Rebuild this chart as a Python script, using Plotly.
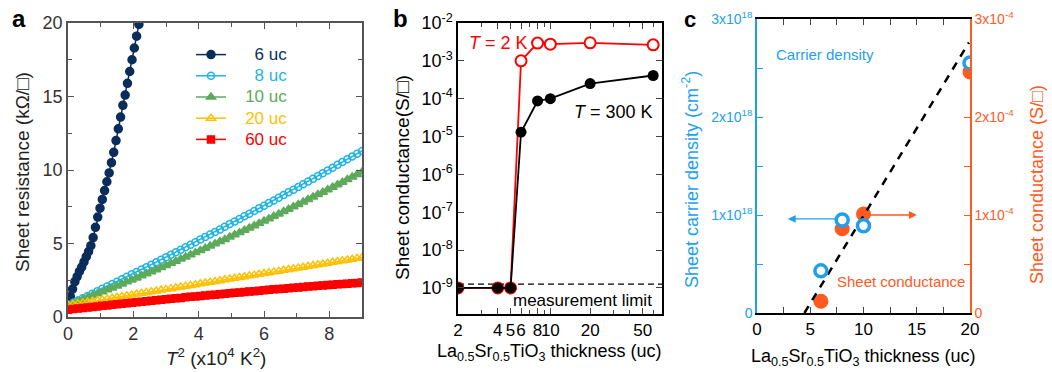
import plotly.graph_objects as go

W, H = 1052, 372
FONT = "Arial, Liberation Sans, Helvetica, sans-serif"

# ---------------- Panel a data: sheet resistance vs T^2 ----------------
t2_6uc = [0.00, 0.07, 0.14, 0.21, 0.28, 0.35, 0.42, 0.49, 0.56, 0.63, 0.70, 0.77,
          0.84, 0.91, 0.98, 1.05, 1.12, 1.19, 1.26, 1.33, 1.40, 1.47, 1.54, 1.61,
          1.68, 1.75, 1.82, 1.89, 1.96, 2.03, 2.10, 2.17]
r_6uc = [0.8, 1.4, 1.9, 2.4, 2.75, 3.1, 3.4, 3.75, 4.1, 4.45, 4.85, 5.4,
         6.1, 6.8, 7.4, 8.0, 8.6, 9.2, 9.8, 10.5, 11.2, 12.0, 12.8, 13.6,
         14.4, 15.1, 15.9, 16.7, 17.5, 18.3, 19.1, 19.9]

t2 = [0.00, 0.15, 0.30, 0.45, 0.60, 0.75, 0.90, 1.05, 1.20, 1.35, 1.50, 1.65,
      1.80, 1.95, 2.10, 2.25, 2.40, 2.55, 2.70, 2.85, 3.00, 3.15, 3.30, 3.45,
      3.60, 3.75, 3.90, 4.05, 4.20, 4.35, 4.50, 4.65, 4.80, 4.95, 5.10, 5.25,
      5.40, 5.55, 5.70, 5.85, 6.00, 6.15, 6.30, 6.45, 6.60, 6.75, 6.90, 7.05,
      7.20, 7.35, 7.50, 7.65, 7.80, 7.95, 8.10, 8.25, 8.40, 8.55, 8.70, 8.85, 9.00]
r_8uc = [0.80, 0.96, 1.12, 1.28, 1.43, 1.59, 1.76, 1.92, 2.08, 2.24, 2.40, 2.57,
         2.73, 2.90, 3.06, 3.23, 3.39, 3.56, 3.73, 3.90, 4.07, 4.24, 4.41, 4.58,
         4.75, 4.92, 5.09, 5.27, 5.44, 5.61, 5.79, 5.96, 6.14, 6.32, 6.49, 6.67,
         6.85, 7.03, 7.21, 7.39, 7.57, 7.75, 7.93, 8.11, 8.30, 8.48, 8.66, 8.85,
         9.03, 9.22, 9.41, 9.59, 9.78, 9.97, 10.16, 10.35, 10.54, 10.73, 10.92, 11.11, 11.30]
r_10uc = [0.80, 0.93, 1.06, 1.19, 1.32, 1.45, 1.58, 1.71, 1.85, 1.98, 2.11, 2.25,
          2.39, 2.52, 2.66, 2.80, 2.94, 3.08, 3.22, 3.36, 3.51, 3.65, 3.80, 3.94,
          4.09, 4.23, 4.38, 4.53, 4.68, 4.83, 4.98, 5.13, 5.28, 5.44, 5.59, 5.74,
          5.90, 6.06, 6.21, 6.37, 6.53, 6.69, 6.85, 7.01, 7.17, 7.33, 7.50, 7.66,
          7.83, 7.99, 8.16, 8.33, 8.49, 8.66, 8.83, 9.00, 9.17, 9.35, 9.52, 9.69, 9.87]
r_20uc = [0.80, 0.85, 0.91, 0.96, 1.02, 1.07, 1.12, 1.18, 1.23, 1.29, 1.34, 1.39,
          1.45, 1.50, 1.56, 1.61, 1.66, 1.72, 1.77, 1.83, 1.88, 1.93, 1.99, 2.04,
          2.10, 2.15, 2.20, 2.26, 2.31, 2.37, 2.42, 2.47, 2.53, 2.58, 2.64, 2.69,
          2.74, 2.80, 2.85, 2.91, 2.96, 3.01, 3.07, 3.12, 3.18, 3.23, 3.28, 3.34,
          3.39, 3.45, 3.50, 3.55, 3.61, 3.66, 3.72, 3.77, 3.82, 3.88, 3.93, 3.99, 4.04]
r_60uc = [0.50, 0.54, 0.57, 0.61, 0.65, 0.68, 0.72, 0.76, 0.79, 0.83, 0.86, 0.90,
          0.93, 0.97, 1.00, 1.04, 1.07, 1.11, 1.14, 1.17, 1.21, 1.24, 1.27, 1.30,
          1.34, 1.37, 1.40, 1.43, 1.46, 1.49, 1.52, 1.55, 1.58, 1.62, 1.65, 1.67,
          1.70, 1.73, 1.76, 1.79, 1.82, 1.85, 1.88, 1.90, 1.93, 1.96, 1.99, 2.01,
          2.04, 2.07, 2.09, 2.12, 2.15, 2.17, 2.20, 2.22, 2.25, 2.27, 2.30, 2.32, 2.35]

# ---------------- Panel b data: sheet conductance vs thickness ----------------
thick_b = [2, 4, 5, 6, 8, 10, 20, 60]
g_300K = [1e-9, 1e-9, 1e-9, 1.3e-5, 8.7e-5, 1.0e-4, 2.5e-4, 4.1e-4]
g_2K = [1e-9, 1e-9, 1e-9, 1.0e-3, 2.95e-3, 2.75e-3, 3.0e-3, 2.65e-3]
MEAS_LIMIT = 1.25e-9
b_xtick_vals = [2, 4, 5, 6, 8, 10, 20, 50]
b_xtick_text = ["2", "4", "5", "6", "8", "10", "20", "50"]
b_ytick_exp = [-2, -3, -4, -5, -6, -7, -8, -9]

# ---------------- Panel c data ----------------
thick_c = [6, 8, 10, 20]
carrier = [0.43e18, 0.95e18, 0.89e18, 2.55e18]
conduct = [0.12e-4, 0.86e-4, 1.01e-4, 2.46e-4]
fit_x = [4.45, 19.9]
fit_y = [0.0, 2.76e18]
arrow_carrier = dict(y=0.96e18, tail=7.5, tip=2.9)
arrow_conduct = dict(y=1.0e-4, tail=10.4, tip=15.0)

BLUE = "#1E9FF0"
ORANGE = "#FF5A1F"
NB = "\u00a0"


def px(x):
    return x / W


def py(y):
    return 1 - y / H


fig = go.Figure()

# ---- panel a traces ----
series_a = [
    (NB * 5 + "6 uc", t2_6uc, r_6uc, "#0B2D5B", "circle", 8),
    (NB * 5 + "8 uc", t2, r_8uc, "#1FB4E6", "circle-open", 7),
    (NB * 3 + "10 uc", t2, r_10uc, "#5DAA5A", "triangle-up", 8),
    (NB * 3 + "20 uc", t2, r_20uc, "#FFC000", "triangle-up-open", 8),
    (NB * 3 + "60 uc", t2, r_60uc, "#FF0000", "square", 7),
]
for name, xs, ys, col, sym, sz in series_a:
    fig.add_trace(go.Scatter(
        x=xs, y=ys, mode="lines+markers", xaxis="x", yaxis="y",
        name=f"<span style='color:{col};font-size:17px'>{name}</span>",
        line=dict(color=col, width=1.5),
        marker=dict(symbol=sym, size=sz, color=col, line=dict(color=col, width=1.5)),
        showlegend=True,
    ))

# ---- panel b traces ----
fig.add_trace(go.Scatter(
    x=[thick_b[0], 70], y=[MEAS_LIMIT, MEAS_LIMIT], mode="lines", xaxis="x2", yaxis="y2",
    line=dict(color="black", width=1.3, dash="6px,4px"), showlegend=False, hoverinfo="skip"))
fig.add_trace(go.Scatter(
    x=thick_b, y=g_2K, mode="lines+markers", xaxis="x2", yaxis="y2",
    line=dict(color="#FF0000", width=1.8),
    marker=dict(symbol="circle", size=11, color="white", line=dict(color="#FF0000", width=2)),
    showlegend=False))
fig.add_trace(go.Scatter(
    x=thick_b, y=g_300K, mode="lines+markers", xaxis="x2", yaxis="y2",
    line=dict(color="black", width=1.8),
    marker=dict(symbol="circle", size=11, color="black"),
    showlegend=False))

# ---- panel c traces ----
fig.add_trace(go.Scatter(
    x=thick_c, y=conduct, mode="markers", xaxis="x3", yaxis="y3",
    marker=dict(symbol="circle", size=15, color=ORANGE), showlegend=False))
fig.add_trace(go.Scatter(
    x=fit_x, y=fit_y, mode="lines", xaxis="x3", yaxis="y4",
    line=dict(color="black", width=2.5, dash="8px,7px"), showlegend=False))
fig.add_trace(go.Scatter(
    x=thick_c, y=carrier, mode="markers", xaxis="x3", yaxis="y4",
    marker=dict(symbol="circle", size=12, color="white", line=dict(color=BLUE, width=3.5)),
    showlegend=False))

tickfont_a = dict(family=FONT, size=18, color="#333")
tickfont_b = dict(family=FONT, size=18, color="black")

fig.update_layout(
    width=W, height=H, margin=dict(l=0, r=0, t=0, b=0),
    paper_bgcolor="white", plot_bgcolor="white",
    font=dict(family=FONT),
    showlegend=True,
    legend=dict(x=px(191), y=py(39), xanchor="left", yanchor="top",
                bgcolor="rgba(0,0,0,0)", font=dict(family=FONT, size=14),
                tracegroupgap=0, itemwidth=30),
    xaxis=dict(domain=[px(68), px(362)], range=[0, 9], anchor="y",
               showline=True, linecolor="#555", linewidth=1.5, mirror="ticks",
               ticks="inside", ticklen=6, tickwidth=1.2, tickcolor="#555",
               tickvals=[0, 2, 4, 6, 8], minor=dict(tickvals=[1, 3, 5, 7, 9], ticks="inside", ticklen=4, tickcolor="#555"),
               showgrid=False, zeroline=False, tickfont=tickfont_a, automargin=False),
    yaxis=dict(domain=[py(317), py(23)], range=[0, 20], anchor="x",
               showline=True, linecolor="#555", linewidth=1.5, mirror="ticks",
               ticks="inside", ticklen=6, tickwidth=1.2, tickcolor="#555",
               tickvals=[0, 5, 10, 15, 20], minor=dict(tickvals=[2.5, 7.5, 12.5, 17.5], ticks="inside", ticklen=4, tickcolor="#555"),
               showgrid=False, zeroline=False, tickfont=tickfont_a, automargin=False),
    xaxis2=dict(domain=[px(458), px(662)], type="log", range=[0.301, 1.845], anchor="y2",
                showline=True, linecolor="black", linewidth=1.5, mirror="ticks",
                ticks="inside", ticklen=6, tickwidth=1.2, tickangle=0,
                tickvals=b_xtick_vals, ticktext=b_xtick_text,
                minor=dict(tickvals=[3, 7, 9, 30, 40, 60], ticks="inside", ticklen=4),
                showgrid=False, zeroline=False, tickfont=dict(family=FONT, size=17, color="black"),
                automargin=False),
    yaxis2=dict(domain=[py(314), py(23)], type="log", range=[-9.69, -2], anchor="x2",
                showline=True, linecolor="black", linewidth=1.5, mirror="ticks",
                ticks="inside", ticklen=6, tickwidth=1.2,
                tickvals=[10 ** e for e in b_ytick_exp],
                ticktext=[f"10<sup>{e}</sup>" for e in b_ytick_exp],
                showgrid=False, zeroline=False, tickfont=tickfont_b, automargin=False),
    xaxis3=dict(domain=[px(757), px(970)], range=[0, 20], anchor="y3",
                showline=True, linecolor="black", linewidth=1.5, mirror="ticks",
                ticks="inside", ticklen=6, tickwidth=1.2, tickangle=0,
                tickvals=[0, 5, 10, 15, 20],
                minor=dict(tickvals=[2.5, 7.5, 12.5, 17.5], ticks="inside", ticklen=6),
                showgrid=False, zeroline=False, tickfont=dict(family=FONT, size=17, color="black"),
                automargin=False),
    yaxis3=dict(domain=[py(313), py(19)], range=[0, 3e-4], anchor="x3", side="right",
                showline=True, linecolor=ORANGE, linewidth=1.5,
                ticks="inside", ticklen=6, tickwidth=1.2, tickcolor=ORANGE,
                tickvals=[0, 1e-4, 2e-4, 3e-4],
                ticktext=["0", "1x10<sup>-4</sup>", "2x10<sup>-4</sup>", "3x10<sup>-4</sup>"],
                minor=dict(tickvals=[0.5e-4, 1.5e-4, 2.5e-4], ticks="inside", ticklen=6, tickcolor=ORANGE),
                showgrid=False, zeroline=False, tickfont=dict(family=FONT, size=14, color=ORANGE),
                automargin=False),
    yaxis4=dict(range=[0, 3e18], anchor="x3", overlaying="y3", side="left",
                showline=True, linecolor=BLUE, linewidth=1.5,
                ticks="inside", ticklen=6, tickwidth=1.2, tickcolor=BLUE,
                tickvals=[0, 1e18, 2e18, 3e18],
                ticktext=["0", "1x10<sup>18</sup>", "2x10<sup>18</sup>", "3x10<sup>18</sup>"],
                minor=dict(tickvals=[0.5e18, 1.5e18, 2.5e18], ticks="inside", ticklen=6, tickcolor=BLUE),
                showgrid=False, zeroline=False, tickfont=dict(family=FONT, size=14, color=BLUE),
                automargin=False),
)


def ann(text, x, y, size=18, color="black", angle=0, bold=False, xanchor="center"):
    if bold:
        text = f"<b>{text}</b>"
    fig.add_annotation(text=text, x=px(x), y=py(y), xref="paper", yref="paper",
                       showarrow=False, textangle=angle, xanchor=xanchor, yanchor="middle",
                       font=dict(family=FONT, size=size, color=color))


# panel labels
ann("a", 19, 19, size=24, bold=True)
ann("b", 400, 19, size=24, bold=True)
ann("c", 690, 20, size=22, bold=True)

# panel a titles
ann("Sheet resistance (k\u03a9/\u25a1)", 22, 172, size=19, color="#222", angle=-90)
ann("<i>T</i><sup>2</sup> (x10<sup>4</sup> K<sup>2</sup>)", 216, 357, size=19, color="#222")

# panel b titles / labels
ann("Sheet conductance(S/\u25a1)", 402, 178, size=19, angle=-90)
ann("La<sub>0.5</sub>Sr<sub>0.5</sub>TiO<sub>3</sub> thickness (uc)", 549, 352, size=18)
ann("<i>T</i> = 2 K", 498, 43, size=18, color="#FF0000")
ann("<i>T</i> = 300 K", 613, 112, size=18)
ann("measurement limit", 582, 300, size=17)

# panel c titles / labels
ann("Sheet carrier density (cm<sup>-2</sup>)", 690, 180, size=18, color=BLUE, angle=-90)
ann("Sheet conductance (S/\u25a1)", 1037, 185, size=18, color=ORANGE, angle=-90)
ann("La<sub>0.5</sub>Sr<sub>0.5</sub>TiO<sub>3</sub> thickness (uc)", 863, 357, size=18)
ann("Carrier density", 825, 55, size=15, color=BLUE)
ann("Sheet conductance", 901, 281, size=15, color=ORANGE)

# arrows in panel c
fig.add_annotation(x=arrow_carrier["tip"], y=arrow_carrier["y"], ax=arrow_carrier["tail"], ay=arrow_carrier["y"],
                   xref="x3", yref="y4", axref="x3", ayref="y4", text="", showarrow=True,
                   arrowhead=2, arrowsize=1.2, arrowwidth=1.3, arrowcolor=BLUE, standoff=0)
fig.add_annotation(x=arrow_conduct["tip"], y=arrow_conduct["y"], ax=arrow_conduct["tail"], ay=arrow_conduct["y"],
                   xref="x3", yref="y3", axref="x3", ayref="y3", text="", showarrow=True,
                   arrowhead=2, arrowsize=1.2, arrowwidth=1.3, arrowcolor=ORANGE, standoff=0)

fig.write_html("out.html")
